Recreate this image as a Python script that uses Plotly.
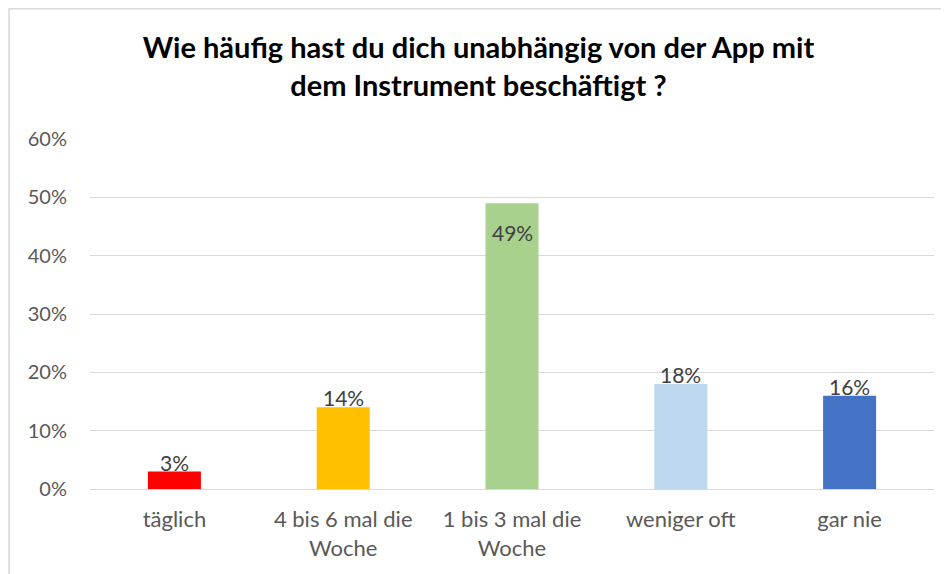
import plotly.graph_objects as go

categories = ["täglich", "4 bis 6 mal die<br>Woche", "1 bis 3 mal die<br>Woche", "weniger oft", "gar nie"]
values = [0.03, 0.14, 0.49, 0.18, 0.16]
colors = ["#FF0000", "#FFC000", "#A9D18E", "#BDD7EE", "#4472C4"]
label_inside = [False, False, True, False, False]
tick_vals = [0, 0.1, 0.2, 0.3, 0.4, 0.5, 0.6]
title_text = "Wie häufig hast du dich unabhängig von der App mit<br>dem Instrument beschäftigt ?"

FONT = "Lato"
LABEL_SIZE = 21
W, H = 941, 566
L, T, PW, PH = 82, 131, 844, 350

fig = go.Figure(go.Bar(
    x=categories,
    y=values,
    marker=dict(color=colors, line=dict(width=0)),
    hoverinfo="x+y",
))

for c, v, ins in zip(categories, values, label_inside):
    fig.add_annotation(x=c, y=v, text=f"{v:.0%}", showarrow=False,
                       yanchor="top" if ins else "bottom",
                       yshift=-15 if ins else -5,
                       font=dict(family=FONT, size=LABEL_SIZE, color="#404040"))

fig.update_layout(
    width=W, height=H,
    margin=dict(l=L, r=W - L - PW, t=T, b=H - T - PH),
    paper_bgcolor="white",
    plot_bgcolor="white",
    bargap=0.686,
    showlegend=False,
    title=dict(
        text="<b>" + title_text + "</b>",
        x=0.5, xanchor="center",
        y=1 - 50 / H, yanchor="middle",
        font=dict(family=FONT, size=29, color="#000000"),
    ),
    font=dict(family=FONT, color="#595959"),
    shapes=[dict(type="rect", xref="paper", yref="paper",
                 x0=-(L - 1) / PW, x1=(W - L + 20) / PW,
                 y0=-(H - T - PH + 20) / PH, y1=(T - 0.75) / PH + 1,
                 line=dict(color="#D9D9D9", width=1.5), fillcolor="rgba(0,0,0,0)", layer="below")],
)

fig.update_yaxes(
    range=[0, 0.6],
    tickvals=tick_vals,
    tickformat=".0%",
    showgrid=True, gridcolor="#D9D9D9", gridwidth=1.3,
    zeroline=True, zerolinecolor="#D9D9D9", zerolinewidth=1.3,
    showline=False,
    tickfont=dict(family=FONT, size=20, color="#595959"),
    ticklabelstandoff=22,
    automargin=False,
)
fig.update_xaxes(
    showline=False, showgrid=False,
    tickfont=dict(family=FONT, size=22, color="#595959"),
    ticklabelstandoff=15,
    automargin=False,
)

fig.write_html("out.html")
